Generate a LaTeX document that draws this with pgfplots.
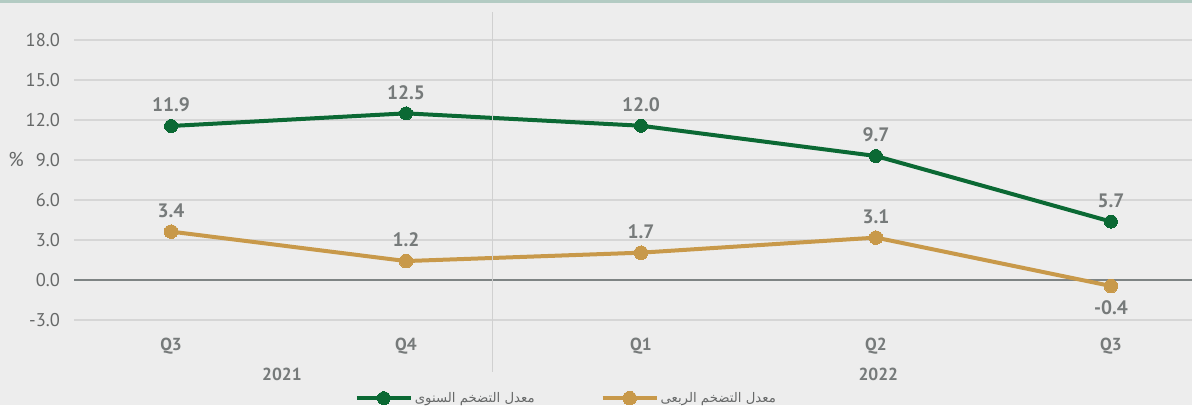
\documentclass[border=0pt]{standalone}
\usepackage{pgfplots}
\pgfplotsset{compat=1.18}
\usepackage{fontspec}
\setmainfont{PT Sans}
\newfontfamily\arabicfont[Script=Arabic]{DejaVu Sans}
\TeXXeTstate=1
\definecolor{bg}{HTML}{EDEDED}
\definecolor{topband}{HTML}{B3CBC3}
\definecolor{gridc}{HTML}{D6D6D6}
\definecolor{zeroc}{HTML}{7E8484}
\definecolor{sepc}{HTML}{D0D0D0}
\definecolor{ytc}{HTML}{666868}
\definecolor{labc}{HTML}{767A7A}
\definecolor{greenc}{HTML}{0B6934}
\definecolor{goldc}{HTML}{C8994A}
\begin{document}
\begin{tikzpicture}[x=1bp,y=1bp]
\path[use as bounding box] (0,0) rectangle (1192,405);
\fill[bg] (0,0) rectangle (1192,405);
\fill[topband] (0,402) rectangle (1192,405);
\begin{axis}[
  at={(74bp,85bp)}, anchor=south west,
  scale only axis, width=1118bp, height=280bp,
  xmin=-0.413, xmax=4.345, ymin=-3, ymax=18,
  axis line style={draw=none},
  major tick length=0pt,
  ytick={-3,0,3,6,9,12,15,18},
  yticklabels={-3.0,0.0,3.0,6.0,9.0,12.0,15.0,18.0},
  ymajorgrids,
  grid style={gridc, line width=1.5bp},
  extra y ticks={0},
  extra y tick labels={},
  extra y tick style={grid style={zeroc, line width=1.5bp}},
  xtick={0,1,2,3,4},
  xticklabels={Q3,Q4,Q1,Q2,Q3},
  yticklabel style={font=\fontsize{18.5}{18.5}\selectfont, text=ytc, anchor=east, inner sep=0pt, xshift=-14bp},
  xticklabel style={font=\fontsize{17.5}{17.5}\selectfont\bfseries, text=labc, anchor=center, inner sep=0pt, yshift=-26bp},
  clip=false,
  nodes near coords,
  point meta=explicit symbolic,
  every node near coord/.style={font=\fontsize{19.5}{19.5}\selectfont\bfseries, text=labc, anchor=center, inner sep=0pt, yshift=21bp},
  legend style={at={(0.251,-0.279)}, anchor=west, draw=none, fill=none, legend columns=2,
    font=\fontsize{13.3}{13.3}\selectfont, text=ytc, /tikz/every even column/.append style={column sep=64bp}, inner sep=0pt},
  legend image code/.code={\draw[#1, mark repeat=2, mark phase=2] plot coordinates {(0bp,0bp) (27bp,0bp) (54bp,0bp)};},
]
\addplot[greenc, line width=4bp, mark=*, mark size=6.5bp, mark options={fill=greenc, draw=greenc, line width=0pt}]
  coordinates {(0,11.55) [11.9] (1,12.5) [12.5] (2,11.57) [12.0] (3,9.3) [9.7] (4,4.38) [5.7]};
\addlegendentry{\arabicfont\beginR معدل التضخم السنوى\endR}
\addplot[goldc, line width=4bp, mark=*, mark size=6.8bp, mark options={fill=goldc, draw=goldc, line width=0pt}]
  coordinates {(0,3.63) [3.4] (1,1.42) [1.2] (2,2.05) [1.7] (3,3.18) [3.1] (4,-0.45) []};
\addlegendentry{\arabicfont\beginR معدل التضخم الربعى\endR}
\addplot[draw=none, mark=none, forget plot, every node near coord/.append style={yshift=-43bp}]
  coordinates {(4,-0.45) [-0.4]};
\draw[sepc, line width=1bp] (axis cs:1.37,20.1) -- (axis cs:1.37,-6.9);
\node[font=\fontsize{17.5}{17.5}\selectfont\bfseries, text=labc] at (axis cs:0.472,-7.05) {2021};
\node[font=\fontsize{17.5}{17.5}\selectfont\bfseries, text=labc] at (axis cs:3.01,-7.05) {2022};
\node[font=\fontsize{20}{20}\selectfont, text=ytc] at (axis cs:-0.66,9) {\%};
\end{axis}
\end{tikzpicture}
\end{document}
